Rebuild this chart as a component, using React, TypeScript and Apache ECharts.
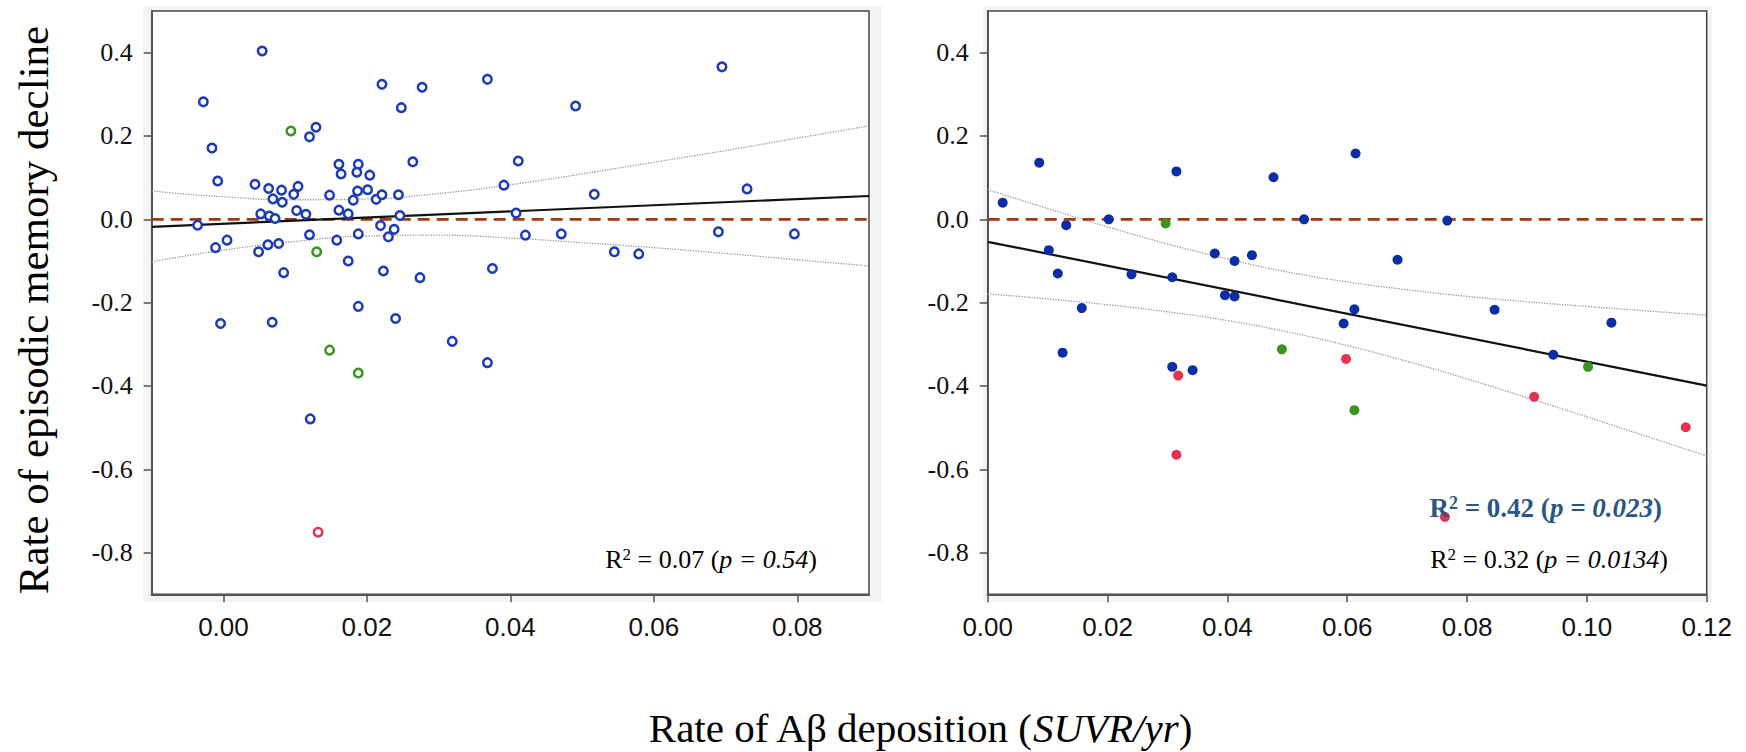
import React, { useEffect, useRef } from "react";
import * as echarts from "echarts";

// ---------- Data ----------
// Left panel: hollow markers
const leftBlue: [number, number][] = [
  [0.0054, 0.404], [-0.0028, 0.282], [-0.0016, 0.171], [-0.0008, 0.092],
  [0.012, 0.198], [0.0129, 0.221], [0.0044, 0.084], [0.0063, 0.074],
  [0.0081, 0.07], [0.0104, 0.079], [0.0098, 0.06], [0.0069, 0.049],
  [0.0082, 0.041], [0.0052, 0.013], [0.0064, 0.008], [0.0072, 0.002],
  [0.0102, 0.021], [0.0115, 0.012], [-0.0036, -0.014], [-0.0011, -0.068],
  [0.0005, -0.05], [0.0049, -0.078], [0.0062, -0.061], [0.0077, -0.058],
  [0.0084, -0.128], [0.012, -0.037], [-0.0004, -0.25], [0.0068, -0.247],
  [0.0161, 0.132], [0.0164, 0.109], [0.0188, 0.132], [0.0186, 0.113],
  [0.0204, 0.106], [0.0148, 0.058], [0.0187, 0.068], [0.0201, 0.071],
  [0.0181, 0.046], [0.0213, 0.048], [0.0221, 0.059], [0.0244, 0.059],
  [0.0161, 0.022], [0.0174, 0.013], [0.0246, 0.009], [0.0158, -0.05],
  [0.0188, -0.035], [0.0174, -0.1], [0.0219, -0.015], [0.023, -0.042],
  [0.0238, -0.024], [0.0223, -0.124], [0.0188, -0.209], [0.024, -0.238],
  [0.0221, 0.324], [0.0277, 0.317], [0.0248, 0.268], [0.0264, 0.138],
  [0.0274, -0.14], [0.0368, 0.336], [0.0375, -0.118], [0.0491, 0.272],
  [0.0695, 0.366], [0.0411, 0.14], [0.0391, 0.082], [0.0517, 0.06],
  [0.073, 0.073], [0.0408, 0.015], [0.0421, -0.038], [0.0471, -0.035],
  [0.0545, -0.078], [0.0579, -0.083], [0.069, -0.03], [0.0796, -0.035],
  [0.0121, -0.479], [0.0319, -0.293], [0.0368, -0.344],
];
const leftGreen: [number, number][] = [
  [0.0094, 0.212], [0.013, -0.078], [0.0148, -0.314], [0.0188, -0.369],
];
const leftRed: [number, number][] = [[0.0132, -0.751]];

// Right panel: filled markers
const rightBlue: [number, number][] = [
  [0.0025, 0.04], [0.0086, 0.136], [0.0315, 0.115], [0.0477, 0.101],
  [0.0614, 0.158], [0.0202, 0.0], [0.0528, 0.0], [0.0131, -0.014],
  [0.0102, -0.074], [0.0117, -0.13], [0.024, -0.132], [0.0308, -0.139],
  [0.0157, -0.213], [0.0379, -0.082], [0.0412, -0.1], [0.0441, -0.086],
  [0.0396, -0.182], [0.0412, -0.185], [0.0594, -0.25], [0.0612, -0.216],
  [0.0767, -0.003], [0.0684, -0.097], [0.0846, -0.217], [0.1041, -0.248],
  [0.0125, -0.32], [0.0308, -0.354], [0.0342, -0.362], [0.0944, -0.325],
];
const rightGreen: [number, number][] = [
  [0.0297, -0.01], [0.0491, -0.312], [0.0612, -0.458], [0.1002, -0.354],
];
const rightRed: [number, number][] = [
  [0.0318, -0.375], [0.0315, -0.565], [0.0598, -0.335], [0.0912, -0.426],
  [0.1165, -0.499], [0.0763, -0.714],
];

// Fit lines and confidence bands
const leftFitX = [-0.01, 0.09];
const leftFitY = [-0.018, 0.056];
const leftBandX = [-0.01, 0.0, 0.01, 0.02, 0.03, 0.04, 0.05, 0.06, 0.07, 0.08, 0.09];
const leftBandUpper = [0.068, 0.054, 0.047, 0.049, 0.062, 0.083, 0.109, 0.137, 0.165, 0.195, 0.224];
const leftBandLower = [-0.102, -0.074, -0.053, -0.04, -0.038, -0.045, -0.056, -0.068, -0.082, -0.097, -0.112];

const rightFitX = [0.0, 0.12];
const rightFitY = [-0.054, -0.399];
const rightBandX = [0.0, 0.01, 0.02, 0.03, 0.04, 0.05, 0.06, 0.07, 0.08, 0.09, 0.1, 0.11, 0.12];
const rightBandUpper = [0.071, 0.026, -0.018, -0.059, -0.095, -0.126, -0.15, -0.169, -0.185, -0.198, -0.209, -0.22, -0.23];
const rightBandLower = [-0.179, -0.191, -0.205, -0.222, -0.243, -0.27, -0.303, -0.341, -0.383, -0.428, -0.474, -0.521, -0.568];

const leftZeroX = [-0.01, 0.09];
const rightZeroX = [0.0, 0.12];

// Axis ticks
const leftTicksX = [0, 0.02, 0.04, 0.06, 0.08];
const rightTicksX = [0, 0.02, 0.04, 0.06, 0.08, 0.1, 0.12];
const yTicks = [-0.8, -0.6, -0.4, -0.2, 0, 0.2, 0.4];

// Text
const yTitle = "Rate of episodic memory decline";
const xTitleMain = "Rate of A\u03b2 deposition (";
const xTitleItalic = "SUVR/yr";
const annLeft = { head: "R", sup: "2", main: " = 0.07 (", italic: "p = 0.54", end: ")" };
const annRightBold = { head: "R", sup: "2", main: " = 0.42 (", italic: "p = 0.023", end: ")" };
const annRight = { head: "R", sup: "2", main: " = 0.32 (", italic: "p = 0.0134", end: ")" };

// ---------- Styles ----------
const SERIF = "Liberation Serif, Times New Roman, serif";
const SANS = "Liberation Sans, Arial, sans-serif";
const BLUE_L = "#1c3bb8";
const BLUE_R = "#0b2ea6";
const GREEN = "#3b9420";
const RED = "#e5334f";
const ZERO = "#a23a10";
const BAND = "#9a9a9a";

const zip = (xs: number[], ys: number[]) => xs.map((x, i) => [x, ys[i]]);

export default function App() {
  const ref = useRef<HTMLDivElement>(null);

  useEffect(() => {
    if (!ref.current) return;
    const chart = echarts.init(ref.current, undefined, { renderer: "svg" });

    const GRID_TOP = 11;
    const GRID_H = 583.3;

    const xAxisBase = (min: number, max: number, ticks: number[], idx: number) => ({
      type: "value",
      gridIndex: idx,
      min,
      max,
      splitLine: { show: false },
      axisLine: { show: true, onZero: false, lineStyle: { color: "#555", width: 2 } },
      axisTick: { show: true, customValues: ticks, length: 8, inside: false, lineStyle: { color: "#555", width: 1.5 } },
      axisLabel: {
        customValues: ticks,
        formatter: (v: number) => v.toFixed(2),
        fontFamily: SANS,
        fontSize: 26,
        color: "#111",
        margin: 20,
      },
    });
    const yAxisBase = (idx: number) => ({
      type: "value",
      gridIndex: idx,
      min: -0.9,
      max: 0.5,
      splitLine: { show: false },
      axisLine: { show: true, onZero: false, lineStyle: { color: "#555", width: 2 } },
      axisTick: { show: true, customValues: yTicks, length: 8, inside: false, lineStyle: { color: "#555", width: 1.5 } },
      axisLabel: {
        customValues: yTicks,
        formatter: (v: number) => v.toFixed(1),
        fontFamily: SERIF,
        fontSize: 26,
        color: "#111",
        margin: 19,
      },
    });

    const lineSeries = (data: number[][], idx: number, style: any, smooth = false, z = 2) => ({
      type: "line",
      xAxisIndex: idx,
      yAxisIndex: idx,
      data,
      symbol: "none",
      smooth,
      lineStyle: style,
      silent: true,
      z,
    });

    const hollow = (data: [number, number][], color: string) => ({
      type: "scatter",
      xAxisIndex: 0,
      yAxisIndex: 0,
      data,
      symbol: "circle",
      symbolSize: 8.5,
      itemStyle: { color: "#ffffff", borderColor: color, borderWidth: 2.5, opacity: 1 },
      silent: true,
      z: 5,
    });
    const filled = (data: [number, number][], color: string) => ({
      type: "scatter",
      xAxisIndex: 1,
      yAxisIndex: 1,
      data,
      symbol: "circle",
      symbolSize: 10,
      itemStyle: { color, opacity: 1 },
      silent: true,
      z: 5,
    });

    const rich = (size: number, weight: string, color: string) => ({
      n: { fontFamily: SERIF, fontSize: size, fontWeight: weight, fontStyle: "normal", fill: color, color },
      i: { fontFamily: SERIF, fontSize: size, fontWeight: weight, fontStyle: "italic", fill: color, color },
      s: {
        fontFamily: SERIF,
        fontSize: Math.round(size * 0.65),
        fontWeight: weight,
        fontStyle: "normal",
        fill: color,
        color,
        verticalAlign: "top",
      },
    });

    const annText = (
      a: { head: string; sup: string; main: string; italic: string; end: string },
      x: number,
      y: number,
      size: number,
      weight: string,
      color: string
    ) => ({
      type: "text",
      x,
      y,
      z: 100,
      silent: true,
      style: {
        text: `{n|${a.head}}{s|${a.sup}}{n|${a.main}}{i|${a.italic}}{n|${a.end}}`,
        rich: rich(size, weight, color),
        fontFamily: SERIF,
        fontSize: size,
        fontWeight: weight,
        fill: color,
        align: "right",
        verticalAlign: "middle",
      },
    });

    const option: any = {
      animation: false,
      backgroundColor: "#ffffff",
      grid: [
        {
          left: 151.7,
          top: GRID_TOP,
          width: 717.3,
          height: GRID_H,
          show: true,
          backgroundColor: "#ffffff",
          borderColor: "#444",
          borderWidth: 1.5,
        },
        {
          left: 987.7,
          top: GRID_TOP,
          width: 719,
          height: GRID_H,
          show: true,
          backgroundColor: "#ffffff",
          borderColor: "#444",
          borderWidth: 1.5,
        },
      ],
      xAxis: [xAxisBase(-0.01, 0.09, leftTicksX, 0), xAxisBase(0, 0.12, rightTicksX, 1)],
      yAxis: [yAxisBase(0), yAxisBase(1)],
      series: [
        // left panel
        lineSeries(zip(leftBandX, leftBandUpper), 0, { color: BAND, width: 1.3, type: "dotted" }, true),
        lineSeries(zip(leftBandX, leftBandLower), 0, { color: BAND, width: 1.3, type: "dotted" }, true),
        lineSeries(zip(leftZeroX, [0, 0]), 0, { color: ZERO, width: 2.7, type: [12, 7] }, false, 3),
        lineSeries(zip(leftFitX, leftFitY), 0, { color: "#111", width: 2.2 }, false, 3),
        hollow(leftBlue, BLUE_L),
        hollow(leftGreen, GREEN),
        hollow(leftRed, RED),
        // right panel
        lineSeries(zip(rightBandX, rightBandUpper), 1, { color: BAND, width: 1.3, type: "dotted" }, true),
        lineSeries(zip(rightBandX, rightBandLower), 1, { color: BAND, width: 1.3, type: "dotted" }, true),
        lineSeries(zip(rightZeroX, [0, 0]), 1, { color: ZERO, width: 2.7, type: [12, 7] }, false, 3),
        lineSeries(zip(rightFitX, rightFitY), 1, { color: "#111", width: 2.2 }, false, 3),
        filled(rightBlue, BLUE_R),
        filled(rightGreen, GREEN),
        filled(rightRed, RED),
      ],
      graphic: [
        { type: "rect", z: -10, silent: true, shape: { x: 143, y: 6, width: 739, height: 596 }, style: { fill: "#f4f4f4" } },
        { type: "rect", z: -10, silent: true, shape: { x: 982.7, y: 6, width: 729.6, height: 596 }, style: { fill: "#f4f4f4" } },
        {
          type: "text",
          x: 33,
          y: 310,
          rotation: Math.PI / 2,
          silent: true,
          z: 100,
          style: {
            text: yTitle,
            fontFamily: SERIF,
            fontSize: 43,
            fill: "#000",
            align: "center",
            verticalAlign: "middle",
          },
        },
        {
          type: "text",
          x: 920,
          y: 728,
          silent: true,
          z: 100,
          style: {
            text: `{n|${xTitleMain}}{i|${xTitleItalic}}{n|)}`,
            rich: rich(41, "normal", "#000"),
            fontFamily: SERIF,
            fontSize: 41,
            fill: "#000",
            align: "center",
            verticalAlign: "middle",
          },
        },
        annText(annLeft, 817, 559, 26, "normal", "#000"),
        annText(annRightBold, 1662, 507.5, 27, "bold", "#2a5584"),
        annText(annRight, 1668, 559, 26, "normal", "#000"),
      ],
    };

    chart.setOption(option);
    return () => {
      chart.dispose();
    };
  }, []);

  return (
    <div
      ref={ref}
      style={{ position: "fixed", left: 0, top: 0, width: 1746, height: 752, background: "#fff" }}
    />
  );
}
